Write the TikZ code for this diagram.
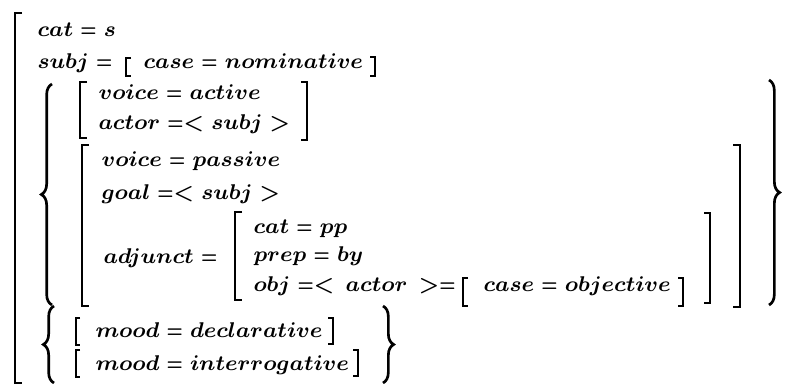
\documentclass[tikz,border=0pt]{standalone}
\usepackage{graphicx}
\usetikzlibrary{decorations.pathreplacing}
\newcommand\fsfont{\fontsize{8.1}{10}\selectfont\boldmath\thickmuskip=5mu\relax}
\newcommand\feq{\mathrel{\scalebox{0.8}[1]{$=$}}}
\tikzset{
  fs/.style={anchor=base west,inner sep=0pt,font=\fsfont},
  bar/.style={line width=1.1pt},
  sbar/.style={line width=0.8pt},
  curly/.style={line width=1pt,decorate,decoration={brace,amplitude=4pt}}
}

\begin{document}
\begin{tikzpicture}[x=0.375pt,y=-0.375pt]
\useasboundingbox (0,0) rectangle (801,384);
% outer matrix
\draw[bar] (22,13) -- (15,13) -- (15,383) -- (22,383);
\node[fs] (cat) at (37,37) {$cat \feq s$};
\node[fs] (subj) at (37,69) {$subj \feq$};
\draw[sbar] (131,58) -- (126,58) -- (126,76) -- (131,76);
\node[fs] (nom) at (143,69) {$case \feq nominative$};
\draw[sbar] (370,57) -- (375,57) -- (375,76) -- (370,76);
% voice
\draw[curly] (52,305) -- (52,84);
\draw[curly] (769,80) -- (769,305);
\draw[bar] (87,82) -- (80,82) -- (80,138) -- (87,138);
\node[fs] (vact) at (98,100) {$voice \feq active$};
\node[fs] (act) at (98,130) {$actor \feq< subj >$};
\draw[bar] (301,82) -- (307,82) -- (307,140) -- (301,140);
\draw[bar] (89,145) -- (82,145) -- (82,306) -- (89,306);
\node[fs] (vpas) at (101,167) {$voice \feq passive$};
\node[fs] (goal) at (101,200) {$goal \feq< subj >$};
\node[fs] (adj) at (103,263) {$adjunct \feq$};
\draw[bar] (242,212) -- (235,212) -- (235,300) -- (242,300);
\node[fs] (pp) at (253,233) {$cat \feq pp$};
\node[fs] (by) at (253,262) {$prep \feq by$};
\node[fs] (obj) at (253,291) {$obj \feq<\, actor\, >\feq$};
\draw[sbar] (468,278) -- (463,278) -- (463,306) -- (468,306);
\node[fs] (objc) at (483,291) {$case \feq objective$};
\draw[sbar] (678,278) -- (683,278) -- (683,306) -- (678,306);
\draw[bar] (704,213) -- (710,213) -- (710,303) -- (704,303);
\draw[bar] (733,145) -- (740,145) -- (740,307) -- (733,307);
% mood
\draw[curly] (54,383) -- (54,306);
\draw[curly] (383,306) -- (383,383);
\draw[sbar] (80,318) -- (76,318) -- (76,345) -- (80,345);
\node[fs] (decl) at (95,337) {$mood \feq declarative$};
\draw[sbar] (328,318) -- (333,318) -- (333,344) -- (328,344);
\draw[sbar] (80,350) -- (76,350) -- (76,377) -- (80,377);
\node[fs] (inter) at (95,370) {$mood \feq interrogative$};
\draw[sbar] (353,350) -- (358,350) -- (358,376) -- (353,376);
\end{tikzpicture}
\end{document}
